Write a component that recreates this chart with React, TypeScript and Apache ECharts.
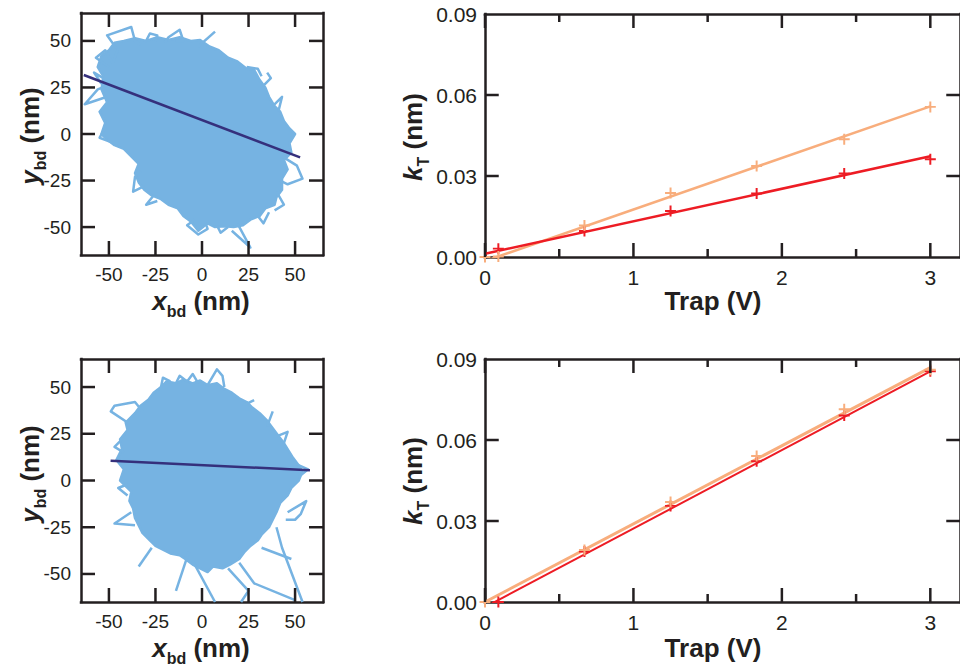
import React, { useEffect, useRef } from 'react';
import * as echarts from 'echarts';

const BLUE = '#76b3e2';
const FIT = '#35307c';
const RED = '#ed1c24';
const ORANGE = '#f8ad7c';
const INK = '#231f20';
const FONT = '"Liberation Sans", Arial, Helvetica, sans-serif';

const bdTicks = [-50, -25, 0, 25, 50];
const bdRange = [-65, 65];
const trapMajor = [0, 1, 2, 3];
const trapMinor = [0.5, 1.5, 2.5];
const trapRange = [0, 3.2];
const kLabels = [0, 0.03, 0.06, 0.09];
const kInnerTicks = [0.03, 0.06];
const kRange = [0, 0.09];

const topBody = [
  [-54, 0], [-52, 6], [-55, 12], [-51, 17], [-54, 24], [-53, 31], [-56, 36], [-54, 42], [-50, 45],
  [-47, 49], [-42, 50], [-36, 51.5], [-30, 50], [-24, 52], [-18, 50.5], [-12, 52], [-6, 50], [-1, 50.5],
  [4, 47], [9, 45], [14, 41], [19, 39], [24, 35], [28, 34.5], [31, 29], [34, 25], [36, 20], [39, 15],
  [42, 12], [44, 7], [47, 3], [50, 0], [47, -5], [48, -10], [44, -14], [46, -19], [43, -24], [43, -30],
  [40, -34], [39, -38], [34, -40], [31, -44], [26, -46], [22, -49], [17, -50], [12, -49.5], [7, -50],
  [3, -48], [-2, -52], [-6, -47], [-10, -44], [-13, -40], [-18, -38], [-22, -35], [-27, -33], [-31, -30],
  [-34, -26], [-36, -21], [-34, -16], [-38, -12], [-42, -8], [-47, -6], [-51, -3],
];
const topLoopA = [[-51, 20], [-63, 16], [-56, 24], [-51, 26]];
const topLoopB = [[-50, 36], [-57, 41], [-52, 45], [-48, 38], [-45, 46]];
const topLoopC = [[-46, 46], [-51, 53], [-38, 57.5], [-36, 50], [-33, 48]];
const topLoopD = [[-20, 49], [-18, 52], [-12, 56], [-10, 50], [-14, 50]];
const topLoopE = [[-2, 47], [7, 55]];
const topLoopF = [[43, -12], [51, -17], [54, -24], [46, -27], [42, -25]];
const topLoopG = [[40, -31], [44, -38], [39, -41]];
const topLoopH = [[19, -48], [26, -61], [16, -52]];
const topLoopI = [[-4, -46], [-8, -49], [-2, -54], [3, -51], [2, -48]];
const topLoopJ = [[-31, -28], [-37, -31], [-36, -23], [-33, -20]];
const topLoopK = [[-47, -5], [-55, -2], [-51, 5]];
const topLoopL = [[24, 36], [30, 35], [32, 31]];
const topLoopM = [[-30, 50], [-28, 54], [-24, 53], [-25, 50]];
const topLoopN = [[33, 26], [37, 30], [35, 33]];
const topLoopO = [[38, 15], [43, 20], [41, 12]];
const topLoopP = [[8, -49], [10, -53], [14, -50]];
const topLoopQ = [[30, -44], [33, -48], [36, -42]];
const topLoopR = [[-53, 30], [-58, 33], [-54, 27]];
const topLoopS = [[-26, -33], [-30, -38], [-24, -36]];
const topFit = [[-63.5, 31.7], [52.7, -12.6]];

const botBody = [
  [-44, 0], [-42, 6], [-46, 11], [-43, 17], [-44, 22], [-40, 27], [-41, 31], [-36, 36], [-33, 40],
  [-29, 43], [-26, 47], [-22, 50], [-19, 53], [-14, 52], [-10, 54], [-5, 52], [-1, 53.5], [3, 51],
  [8, 52], [12, 49], [16, 47], [20, 44], [24, 42], [27, 39], [31, 36], [35, 32], [38, 28], [41, 24],
  [44, 20], [46.5, 16], [49, 12], [52, 8], [54, 5], [52, 0], [48, -4], [46, -8], [42, -12], [40, -17],
  [38, -21], [36, -25], [32, -29], [30, -32], [26, -35], [23, -38], [20, -42], [15, -45], [11, -47],
  [6, -46], [3, -49], [-1, -47], [-5, -45], [-9, -42], [-12, -40], [-17, -39], [-21, -37], [-25, -35],
  [-28, -32], [-32, -28], [-34, -24], [-36, -20], [-37, -15], [-39, -11], [-38, -6], [-41, -3],
];
const botLoopA = [[-40, 31], [-49, 37], [-47, 40], [-36, 42], [-32, 37]];
const botLoopB = [[3, 51], [8, 59.5], [11, 56], [12, 50]];
const botLoopC = [[-14, 52], [-12, 56], [-8, 53], [-5, 57], [-2, 52]];
const botLoopD = [[22, 40], [28, 43]];
const botLoopE = [[35, 29], [38, 37]];
const botLoopF = [[50, 9], [57, 6], [52, 2]];
const botLoopG = [[46, -17], [56, -11], [53, -18], [50, -21], [45, -21]];
const botLoopH = [[40, -25], [43, -36], [54, -65]];
const botLoopI = [[32, -36], [48, -42]];
const botLoopJ = [[20, -44], [28, -55], [50, -64]];
const botLoopK = [[-5, -43], [7, -65]];
const botLoopL = [[-7, -38], [-14, -59]];
const botLoopM = [[-38, -17], [-47, -23], [-36, -24]];
const botLoopN = [[-40, -2], [-45, -4], [-40, -8]];
const botLoopO = [[-27, -36], [-34, -46]];
const botLoopP = [[14, -47], [25, -59], [21, -65]];
const botLoopQ = [[-22, 50], [-21, 55], [-17, 53]];
const botLoopR = [[41, 24], [46, 26], [44, 20]];
const botLoopS = [[-42, 15], [-47, 18], [-43, 22]];
const botFit = [[-49.1, 10.5], [58, 5.5]];

const trapTopRed = [[0.09, 0.0031], [0.67, 0.0096], [1.25, 0.017], [1.83, 0.0235], [2.42, 0.0309], [3.0, 0.0362]];
const trapTopOrange = [[0, 0], [0.09, 0.0002], [0.67, 0.0117], [1.25, 0.0237], [1.83, 0.0337], [2.42, 0.0436], [3.0, 0.0556]];
const trapTopRedFit = [[0, 0.0012], [3, 0.0373]];
const trapTopOrangeFit = [[0, -0.0015], [3, 0.0558]];

const trapBotRed = [[0.09, 0], [0.67, 0.0187], [1.25, 0.0356], [1.83, 0.0521], [2.42, 0.0691], [3.0, 0.0855]];
const trapBotOrange = [[0, 0], [0.67, 0.0193], [1.25, 0.037], [1.83, 0.0541], [2.42, 0.0714], [3.0, 0.086]];
const trapBotRedFit = [[0, -0.0019], [3, 0.0854]];
const trapBotOrangeFit = [[0, 0], [3, 0.0868]];

const topLoops = [topLoopA, topLoopB, topLoopC, topLoopD, topLoopE, topLoopF, topLoopG, topLoopH, topLoopI, topLoopJ,
  topLoopK, topLoopL, topLoopM, topLoopN, topLoopO, topLoopP, topLoopQ, topLoopR, topLoopS];
const botLoops = [botLoopA, botLoopB, botLoopC, botLoopD, botLoopE, botLoopF, botLoopG, botLoopH, botLoopI, botLoopJ,
  botLoopK, botLoopL, botLoopM, botLoopN, botLoopO, botLoopP, botLoopQ, botLoopR, botLoopS];

const CROSS = 'path://M0,4.1H10V5.9H0ZM4.1,0H5.9V10H4.1Z';

const GRIDS = [
  { left: 81, top: 13, width: 242, height: 242 },
  { left: 485, top: 14, width: 484, height: 243 },
  { left: 81, top: 359, width: 242, height: 243 },
  { left: 485, top: 359, width: 484, height: 243 },
];

function frameLine() {
  return { show: true, onZero: false, lineStyle: { color: INK, width: 2.5, cap: 'square' } };
}

function baseAxis(gridIndex: number, position: string, range: number[], label: any) {
  return {
    type: 'value', gridIndex, position, min: range[0], max: range[1],
    axisLine: frameLine(),
    axisTick: { show: false },
    axisLabel: label ? { show: true, color: INK, fontFamily: FONT, ...label } : { show: false },
    splitLine: { show: false },
  };
}

function blobSeries(outline: number[][], xAxisIndex: number, yAxisIndex: number) {
  return {
    type: 'custom', xAxisIndex, yAxisIndex, data: outline, clip: true, silent: true, z: 2,
    encode: { x: 0, y: 1 },
    renderItem: (params: any, api: any) => {
      if (params.dataIndex !== 0) return null;
      const pts = outline.map((p) => api.coord(p));
      return {
        type: 'polygon', shape: { points: pts },
        style: { fill: BLUE, stroke: BLUE, lineWidth: 2.5, lineJoin: 'round' },
      };
    },
  };
}

function pathSeries(data: number[][], xAxisIndex: number, yAxisIndex: number, color: string, width: number, z: number, clip = true) {
  return {
    type: 'line', xAxisIndex, yAxisIndex, data, showSymbol: false, symbol: 'none', clip, silent: true, z,
    lineStyle: { color, width, join: 'round' },
  };
}

function crossSeries(data: number[][], xAxisIndex: number, yAxisIndex: number, color: string, z: number) {
  return {
    type: 'scatter', xAxisIndex, yAxisIndex, data, symbol: CROSS, symbolSize: 11, silent: true, z,
    itemStyle: { color, opacity: 1 },
  };
}

// inward ticks on all four sides; tick length given in px, converted with the grid size
function tickSeries(g: number, axisIndex: number, xr: number[], yr: number[], xMajor: number[], xMinor: number[], yMajor: number[]) {
  const ux = (xr[1] - xr[0]) / GRIDS[g].width;
  const uy = (yr[1] - yr[0]) / GRIDS[g].height;
  const out: any[] = [];
  const add = (a: number[], b: number[]) => out.push(pathSeries([a, b], axisIndex, axisIndex, INK, 2.5, 10, false));
  const xTicks = (vals: number[], len: number) => vals.forEach((v) => {
    add([v, yr[0]], [v, yr[0] + len * uy]);
    add([v, yr[1]], [v, yr[1] - len * uy]);
  });
  xTicks(xMajor, 14);
  xTicks(xMinor, 8);
  yMajor.forEach((v) => {
    add([xr[0], v], [xr[0] + 14 * ux, v]);
    add([xr[1], v], [xr[1] - 14 * ux, v]);
  });
  return out;
}

const titleRich = {
  it: { fontSize: 26, fontWeight: 'bold', fontStyle: 'italic', fontFamily: FONT, fill: INK },
  sub: { fontSize: 16, fontWeight: 'bold', fontFamily: FONT, fill: INK, padding: [20, 0, 0, 0] },
  n: { fontSize: 26, fontWeight: 'bold', fontFamily: FONT, fill: INK },
};

function title(text: string, x: number, y: number, vertical: boolean) {
  return {
    type: 'text', x, y, rotation: vertical ? Math.PI / 2 : 0, silent: true,
    style: { text, rich: titleRich, align: 'center', verticalAlign: 'middle', fill: INK, fontFamily: FONT, fontSize: 26, fontWeight: 'bold' },
  };
}

const TITLES = [
  title('{it|x}{sub|bd}{n| (nm)}', 201, 301, false),
  title('{it|y}{sub|bd}{n| (nm)}', 30, 136, true),
  title('{it|k}{sub|T}{n| (nm)}', 413, 137, true),
  title('{n|Trap (V)}', 713, 301, false),
  title('{it|x}{sub|bd}{n| (nm)}', 201, 648, false),
  title('{it|y}{sub|bd}{n| (nm)}', 30, 474, true),
  title('{it|k}{sub|T}{n| (nm)}', 413, 481, true),
  title('{n|Trap (V)}', 713, 648, false),
];

function buildOption() {
  const bdLabel = { customValues: bdTicks, fontSize: 19, margin: 10 };
  const trapLabel = { customValues: trapMajor, fontSize: 21, margin: 10 };
  const kLabel = { customValues: kLabels, fontSize: 21, margin: 8, formatter: (v: number) => v.toFixed(2) };
  const xAxis = [
    baseAxis(0, 'bottom', bdRange, bdLabel), baseAxis(0, 'top', bdRange, null),
    baseAxis(1, 'bottom', trapRange, trapLabel), baseAxis(1, 'top', trapRange, null),
    baseAxis(2, 'bottom', bdRange, bdLabel), baseAxis(2, 'top', bdRange, null),
    baseAxis(3, 'bottom', trapRange, trapLabel), baseAxis(3, 'top', trapRange, null),
  ];
  const yAxis = [
    baseAxis(0, 'left', bdRange, bdLabel), baseAxis(0, 'right', bdRange, null),
    baseAxis(1, 'left', kRange, kLabel), baseAxis(1, 'right', kRange, null),
    baseAxis(2, 'left', bdRange, bdLabel), baseAxis(2, 'right', bdRange, null),
    baseAxis(3, 'left', kRange, kLabel), baseAxis(3, 'right', kRange, null),
  ];
  const series: any[] = [];
  series.push(blobSeries(topBody, 0, 0));
  topLoops.forEach((l) => series.push(pathSeries(l, 0, 0, BLUE, 2.5, 3)));
  series.push(pathSeries(topFit, 0, 0, FIT, 2.5, 6));
  series.push(...tickSeries(0, 0, bdRange, bdRange, bdTicks, [], bdTicks));

  series.push(blobSeries(botBody, 4, 4));
  botLoops.forEach((l) => series.push(pathSeries(l, 4, 4, BLUE, 2.5, 3)));
  series.push(pathSeries(botFit, 4, 4, FIT, 2.5, 6));
  series.push(...tickSeries(2, 4, bdRange, bdRange, bdTicks, [], bdTicks));

  series.push(pathSeries(trapTopOrangeFit, 2, 2, ORANGE, 2.5, 3));
  series.push(pathSeries(trapTopRedFit, 2, 2, RED, 2.5, 4));
  series.push(crossSeries(trapTopRed, 2, 2, RED, 5));
  series.push(crossSeries(trapTopOrange, 2, 2, ORANGE, 6));
  series.push(...tickSeries(1, 2, trapRange, kRange, trapMajor, trapMinor, kInnerTicks));

  series.push(pathSeries(trapBotOrangeFit, 6, 6, ORANGE, 3, 3));
  series.push(pathSeries(trapBotRedFit, 6, 6, RED, 2, 4));
  series.push(crossSeries(trapBotRed, 6, 6, RED, 5));
  series.push(crossSeries(trapBotOrange, 6, 6, ORANGE, 6));
  series.push(...tickSeries(3, 6, trapRange, kRange, trapMajor, trapMinor, kInnerTicks));

  return { animation: false, backgroundColor: '#ffffff', grid: GRIDS, xAxis, yAxis, series, graphic: TITLES };
}

export default function App() {
  const ref = useRef<HTMLDivElement>(null);
  useEffect(() => {
    if (!ref.current) return;
    const chart = echarts.init(ref.current, null, { renderer: 'svg' });
    chart.setOption(buildOption() as any);
    return () => chart.dispose();
  }, []);
  return <div ref={ref} style={{ position: 'fixed', left: 0, top: 0, width: 960, height: 665, background: '#fff' }} />;
}
